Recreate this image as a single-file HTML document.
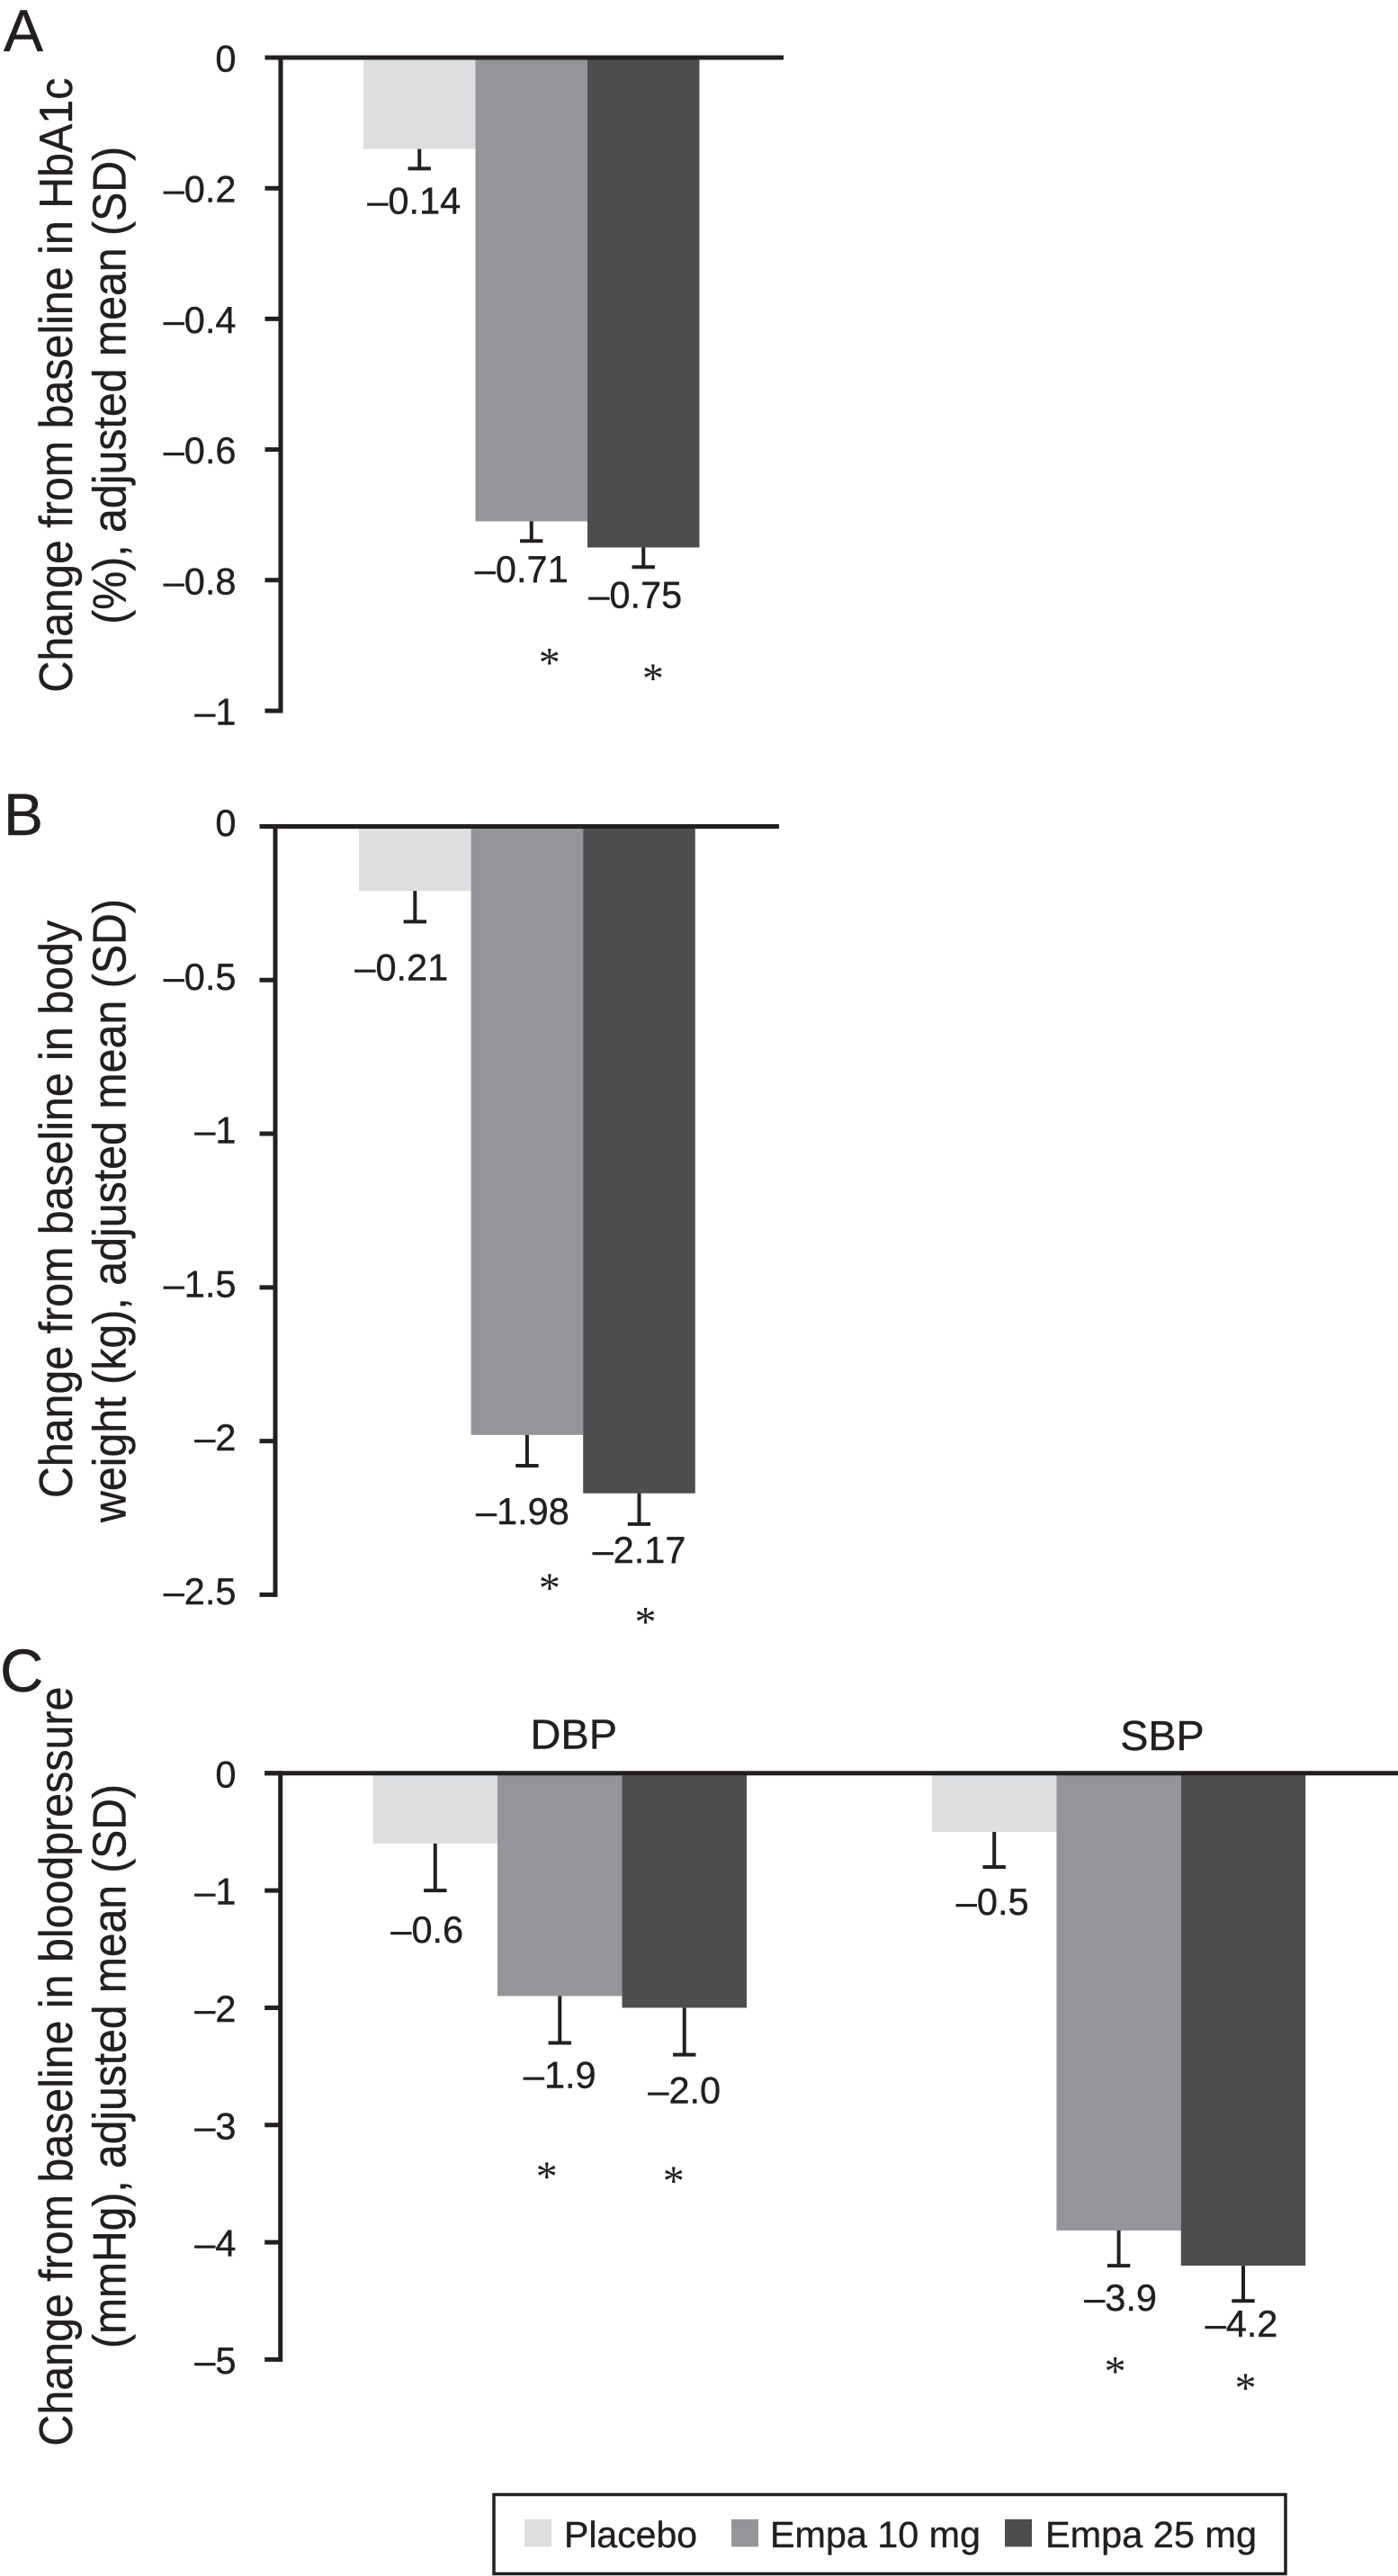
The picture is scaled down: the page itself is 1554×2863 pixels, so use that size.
<!DOCTYPE html>
<html lang="en">
<head>
<meta charset="utf-8">
<title>Change from baseline in HbA1c, body weight and blood pressure</title>
<style>
html,body{margin:0;padding:0;background:#fff;width:1554px;height:2863px;overflow:hidden}
svg{display:block}
text{font-family:"Liberation Sans",Arial,sans-serif;fill:#231f20;stroke:#231f20;stroke-width:.4px}
</style>
</head>
<body>
<svg id="chart" xmlns="http://www.w3.org/2000/svg" width="1554" height="2863" viewBox="0 0 1554 2863">
  <rect x="0" y="0" width="1554" height="2863" fill="#ffffff"/>

  <text x="4" y="57" font-size="66">A</text>
  <text x="4" y="928" font-size="66">B</text>
  <text x="0" y="1880" font-size="67">C</text>

  <g font-size="52">
    <text transform="translate(80,769.6) rotate(-90)" textLength="683" lengthAdjust="spacingAndGlyphs">Change from baseline in HbA1c</text>
    <text transform="translate(139.5,693.8) rotate(-90)" textLength="531" lengthAdjust="spacingAndGlyphs">(%), adjusted mean (SD)</text>
  </g>
  <g font-size="52">
    <text transform="translate(80,1665) rotate(-90)" textLength="642" lengthAdjust="spacingAndGlyphs">Change from baseline in body</text>
    <text transform="translate(139.5,1692) rotate(-90)" textLength="693" lengthAdjust="spacingAndGlyphs">weight (kg), adjusted mean (SD)</text>
  </g>
  <g font-size="52">
    <text transform="translate(80,2718.6) rotate(-90)" textLength="844" lengthAdjust="spacingAndGlyphs">Change from baseline in bloodpressure</text>
    <text transform="translate(139.5,2610) rotate(-90)" textLength="627" lengthAdjust="spacingAndGlyphs">(mmHg), adjusted mean (SD)</text>
  </g>

  <text x="589.5" y="1943.7" font-size="46" textLength="96.5" lengthAdjust="spacingAndGlyphs">DBP</text>
  <text x="1245.3" y="1945" font-size="46" textLength="93.4" lengthAdjust="spacingAndGlyphs">SBP</text>

  <g id="plots"></g>

  <g>
    <rect x="549" y="2772.5" width="880" height="88" fill="#ffffff" stroke="#231f20" stroke-width="3.5"/>
    <rect x="583" y="2800" width="30" height="30.5" fill="#dcdee0"/>
    <text x="627" y="2831" font-size="41" textLength="148" lengthAdjust="spacingAndGlyphs">Placebo</text>
    <rect x="813" y="2800" width="30" height="30.5" fill="#939598"/>
    <text x="856" y="2831" font-size="41" textLength="234" lengthAdjust="spacingAndGlyphs">Empa 10 mg</text>
    <rect x="1117" y="2800" width="30" height="30.5" fill="#4d4d4f"/>
    <text x="1162" y="2831" font-size="41" textLength="235" lengthAdjust="spacingAndGlyphs">Empa 25 mg</text>
  </g>
</svg>
<script>
// ---- data ----
const categories = ['placebo', 'empa-10', 'empa-25'];
const seriesColors = ['#dcdee0', '#939598', '#4d4d4f'];

const hba1cValues = [-0.14, -0.71, -0.75];
const hba1cErrorEnds = [-0.17, -0.74, -0.78];
const hba1cLabels = ['\u20130.14', '\u20130.71', '\u20130.75'];
const hba1cTicks = [0, -0.2, -0.4, -0.6, -0.8, -1];
const hba1cTickLabels = ['0', '\u20130.2', '\u20130.4', '\u20130.6', '\u20130.8', '\u20131'];

const weightValues = [-0.21, -1.98, -2.17];
const weightErrorEnds = [-0.31, -2.08, -2.27];
const weightLabels = ['\u20130.21', '\u20131.98', '\u20132.17'];
const weightTicks = [0, -0.5, -1, -1.5, -2, -2.5];
const weightTickLabels = ['0', '\u20130.5', '\u20131', '\u20131.5', '\u20132', '\u20132.5'];

const dbpValues = [-0.6, -1.9, -2.0];
const dbpErrorEnds = [-1.0, -2.3, -2.4];
const dbpLabels = ['\u20130.6', '\u20131.9', '\u20132.0'];
const sbpValues = [-0.5, -3.9, -4.2];
const sbpErrorEnds = [-0.8, -4.2, -4.5];
const sbpLabels = ['\u20130.5', '\u20133.9', '\u20134.2'];
const bpTicks = [0, -1, -2, -3, -4, -5];
const bpTickLabels = ['0', '\u20131', '\u20132', '\u20133', '\u20134', '\u20135'];

// ---- layout ----
const SVG_NS = 'http://www.w3.org/2000/svg';
const INK = '#231f20';
const plots = document.getElementById('plots');

function make(parent, tag, attrs, content) {
  const el = document.createElementNS(SVG_NS, tag);
  for (const k in attrs) el.setAttribute(k, attrs[k]);
  if (content !== undefined) el.textContent = content;
  parent.appendChild(el);
  return el;
}

function drawPanel(panel) {
  const g = make(plots, 'g', {});
  
  
  const yScale = v => panel.yZero + (v / panel.domainMin) * (panel.yBottom - panel.yZero);

  panel.groups.forEach(group => {
    group.values.forEach((v, i) => {
      const left = group.x + i * group.barWidth;
      const center = left + group.barWidth / 2;
      const bottom = yScale(v);

      const bar = make(g, 'rect', { x: left, y: panel.yZero, width: group.barWidth, height: bottom - panel.yZero, fill: seriesColors[i] });
      
      

      const errEnd = yScale(group.errorEnds[i]);
      const stem = make(g, 'line', { x1: center, x2: center, y1: bottom, y2: errEnd, stroke: INK, 'stroke-width': 4 });
      
      
      const cap = make(g, 'line', { x1: center - 12.7, x2: center + 12.7, y1: errEnd, y2: errEnd, stroke: INK, 'stroke-width': 4 });
      
      

      const nudge = group.labelNudges[i];
      const label = make(g, 'text', { x: center + nudge[0], y: errEnd + nudge[1], 'font-size': 41.5, 'text-anchor': 'middle' }, group.labels[i]);
      
      

      const star = group.starNudges[i];
      if (star) {
        const mark = make(g, 'text', { x: center + star[0], y: bottom + star[1] + 20, 'font-size': 48, 'text-anchor': 'middle', style: 'font-family:"Liberation Serif",serif;stroke-width:0' }, '*');
        
        
      }
    });
  });

  const yAxis = make(g, 'line', { x1: panel.axisX, x2: panel.axisX, y1: panel.yZero - 2.5, y2: panel.yBottom + 2.5, stroke: INK, 'stroke-width': 5 });
  
  
  const zero = make(g, 'line', { x1: panel.axisX - 17.5, x2: panel.axisEnd, y1: panel.yZero, y2: panel.yZero, stroke: INK, 'stroke-width': 5 });
  
  

  panel.ticks.forEach((t, i) => {
    const y = yScale(t);
    const tick = make(g, 'line', { x1: panel.axisX - 17.5, x2: panel.axisX, y1: y, y2: y, stroke: INK, 'stroke-width': 5 });
    
    
    const lab = make(g, 'text', { x: 262.5, y: y + panel.tickBaseline, 'font-size': 41.5, 'text-anchor': 'end' }, panel.tickLabels[i]);
    
    
  });
}

drawPanel({
  name: 'hba1c', yZero: 64, yBottom: 790, domainMin: -1, axisX: 312, axisEnd: 871, tickBaseline: 15.5,
  ticks: hba1cTicks, tickLabels: hba1cTickLabels,
  groups: [{
    name: 'hba1c', x: 404, barWidth: 124.5, values: hba1cValues, errorEnds: hba1cErrorEnds, labels: hba1cLabels,
    labelNudges: [[-6, 50], [-11, 46], [-9, 45]],
    starNudges: [null, [20, 153], [10.6, 141.5]]
  }]
});

drawPanel({
  name: 'weight', yZero: 918.5, yBottom: 1772.4, domainMin: -2.5, axisX: 306, axisEnd: 866, tickBaseline: 10.5,
  ticks: weightTicks, tickLabels: weightTickLabels,
  groups: [{
    name: 'weight', x: 399, barWidth: 124.6, values: weightValues, errorEnds: weightErrorEnds, labels: weightLabels,
    labelNudges: [[-15, 65], [-5, 65], [0, 43]],
    starNudges: [null, [25, 166], [7, 139]]
  }]
});

drawPanel({
  name: 'blood-pressure', yZero: 1970.8, yBottom: 2622.4, domainMin: -5, axisX: 311.7, axisEnd: 1554, tickBaseline: 15.6,
  ticks: bpTicks, tickLabels: bpTickLabels,
  groups: [{
    name: 'dbp', x: 414.5, barWidth: 138.5, values: dbpValues, errorEnds: dbpErrorEnds, labels: dbpLabels,
    labelNudges: [[-9, 58], [0, 50], [0, 54]],
    starNudges: [null, [-14.5, 196.6], [-12, 188.6]]
  }, {
    name: 'sbp', x: 1036, barWidth: 138.4, values: sbpValues, errorEnds: sbpErrorEnds, labels: sbpLabels,
    labelNudges: [[-2, 53], [2, 50], [-2, 40]],
    starNudges: [null, [-4, 152.7], [2.5, 132]]
  }]
});
</script>
</body>
</html>
